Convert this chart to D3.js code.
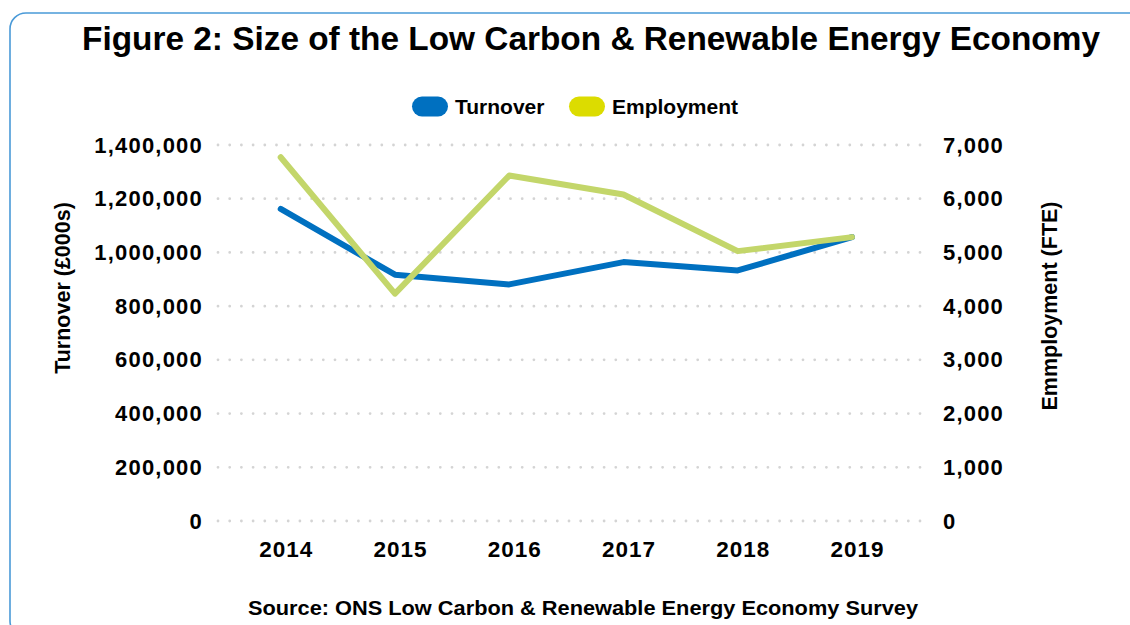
<!DOCTYPE html>
<html>
<head>
<meta charset="utf-8">
<script src="https://cdn.jsdelivr.net/npm/d3@7"></script>
<style>
  html, body { margin: 0; padding: 0; background: #fff; }
  svg { display: block; }
  text { font-family: "Liberation Sans", Arial, sans-serif; font-weight: bold; fill: #000; }
</style>
</head>
<body>
<svg id="chart" width="1130" height="625"></svg>
<script>
// Low carbon & renewable energy economy, 2014-2019
const years = ["2014", "2015", "2016", "2017", "2018", "2019"];
const turnover = [1162000, 917000, 881000, 964000, 933000, 1057000];   // £000s
const employment = [6771, 4232, 6431, 6078, 5024, 5285];              // FTE
const turnoverTicks = [0, 200000, 400000, 600000, 800000, 1000000, 1200000, 1400000];
const employmentTicks = [0, 1000, 2000, 3000, 4000, 5000, 6000, 7000];

const svg = d3.select("#chart");

const plot = { left: 218, right: 925, top: 145, bottom: 521 };

// Frame (runs off the right and bottom edges)
svg.append("rect")
  .attr("x", 10).attr("y", 13)
  .attr("width", 1200).attr("height", 624)
  .attr("rx", 16).attr("ry", 16)
  .attr("fill", "none")
  .attr("stroke", "#4a9ad8")
  .attr("stroke-width", 1.6);

// Title
svg.append("text")
  .attr("x", 591).attr("y", 50)
  .attr("text-anchor", "middle")
  .attr("font-size", 32.5)
  .attr("textLength", 1018)
  .attr("lengthAdjust", "spacingAndGlyphs")
  .text("Figure 2: Size of the Low Carbon & Renewable Energy Economy");

// Scales
const x = d3.scalePoint().domain(years).range([280.7, 852]);
const yL = d3.scaleLinear().domain([0, 1400000]).range([plot.bottom, plot.top]);
const yR = d3.scaleLinear().domain([0, 7000]).range([plot.bottom, plot.top]);

// Dotted gridlines
svg.append("g")
  .selectAll("line")
  .data(turnoverTicks)
  .join("line")
  .attr("x1", plot.left).attr("x2", plot.right)
  .attr("y1", d => yL(d)).attr("y2", d => yL(d))
  .attr("stroke", "#d4d4d4")
  .attr("stroke-width", 2.8)
  .attr("stroke-linecap", "round")
  .attr("stroke-dasharray", "0 11.7");

// Left axis
const leftAxis = svg.append("g")
  .attr("transform", `translate(${plot.left},0)`)
  .call(d3.axisLeft(yL).tickValues(turnoverTicks).tickSize(0).tickPadding(15)
    .tickFormat(d3.format(",")));
leftAxis.select(".domain").remove();
leftAxis.selectAll("text")
  .attr("font-size", 22)
  .attr("letter-spacing", 1.2)
  .attr("font-family", null);

// Right axis
const rightAxis = svg.append("g")
  .attr("transform", `translate(${plot.right},0)`)
  .call(d3.axisRight(yR).tickValues(employmentTicks).tickSize(0).tickPadding(18)
    .tickFormat(d3.format(",")));
rightAxis.select(".domain").remove();
rightAxis.selectAll("text")
  .attr("font-size", 22)
  .attr("letter-spacing", 1.2)
  .attr("font-family", null);

// Bottom axis
const bottomAxis = svg.append("g")
  .attr("transform", `translate(0,${plot.bottom})`)
  .call(d3.axisBottom(x).tickSize(0).tickPadding(20));
bottomAxis.select(".domain").remove();
bottomAxis.selectAll("text")
  .attr("font-size", 22.5)
  .attr("letter-spacing", 1)
  .attr("dx", 5)
  .attr("font-family", null);

// Axis titles
svg.append("text")
  .attr("transform", "translate(70,288) rotate(-90)")
  .attr("text-anchor", "middle")
  .attr("font-size", 21.5)
  .text("Turnover (£000s)");

svg.append("text")
  .attr("transform", "translate(1057,306) rotate(-90)")
  .attr("text-anchor", "middle")
  .attr("font-size", 21.5)
  .text("Emmployment (FTE)");

// Lines
const turnoverLine = d3.line()
  .x((d, i) => x(years[i]))
  .y(d => yL(d));
const employmentLine = d3.line()
  .x((d, i) => x(years[i]))
  .y(d => yR(d));

svg.append("path")
  .datum(turnover)
  .attr("d", turnoverLine)
  .attr("fill", "none")
  .attr("stroke", "#0070c0")
  .attr("stroke-width", 6)
  .attr("stroke-linecap", "round")
  .attr("stroke-linejoin", "round");

svg.append("path")
  .datum(employment)
  .attr("d", employmentLine)
  .attr("fill", "none")
  .attr("stroke", "#c3d66a")
  .attr("stroke-width", 6)
  .attr("stroke-linecap", "round")
  .attr("stroke-linejoin", "round");

// Legend
const legendItems = [
  { label: "Turnover", color: "#0070c0", x: 412 },
  { label: "Employment", color: "#dcdc00", x: 569 }
];
const legend = svg.append("g");
legendItems.forEach(item => {
  legend.append("rect")
    .attr("x", item.x).attr("y", 96.5)
    .attr("width", 36).attr("height", 20)
    .attr("rx", 10).attr("ry", 10)
    .attr("fill", item.color);
  legend.append("text")
    .attr("x", item.x + 43).attr("y", 114)
    .attr("font-size", 21)
    .text(item.label);
});

// Source note
svg.append("text")
  .attr("x", 583).attr("y", 615)
  .attr("text-anchor", "middle")
  .attr("font-size", 21)
  .attr("textLength", 670)
  .attr("lengthAdjust", "spacingAndGlyphs")
  .text("Source: ONS Low Carbon & Renewable Energy Economy Survey");
</script>
</body>
</html>
